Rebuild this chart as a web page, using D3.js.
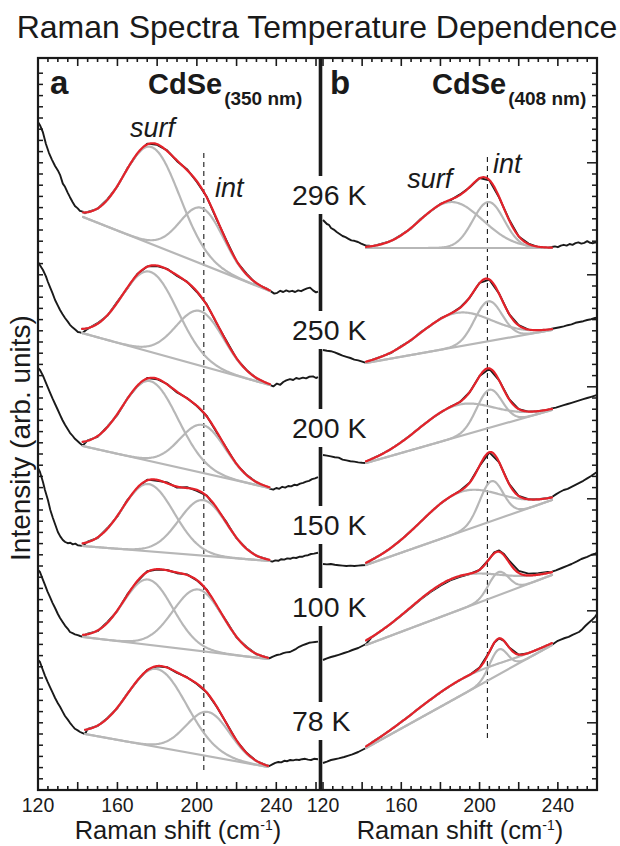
<!DOCTYPE html>
<html>
<head>
<meta charset="utf-8">
<script src="https://cdn.jsdelivr.net/npm/d3@7"></script>
<style>
  body { margin: 0; background: #fff; }
  svg { display: block; }
  text { font-family: "Liberation Sans", Arial, Helvetica, sans-serif; fill: #1a1a1a; }
</style>
</head>
<body>
<svg id="chart" width="620" height="846"></svg>
<script>
// ---------- data ----------
const temps = ["296 K", "250 K", "200 K", "150 K", "100 K", "78 K"];
const shiftTicks = [120, 160, 200, 240];

// Panel a: CdSe (350 nm). Measured spectra as [Raman shift, intensity] pairs.
const a296 = [[120,167],[121,166.2],[122.5,164.4],[124,161.5],[125.5,159.3],[127,157.6],[128.6,156],[130,154.9],[131.1,153.8],[132.5,151.6],[133.6,150.8],[135,149.3],[136.1,148.2],[137.4,147],[138.6,146],[140,145.4],[141.1,144.8],[142.5,144.6],[143.7,144.2],
  [145,144.5],[150,145.3],[155,147.7],[160,150.9],[165,155.4],[170,159.0],[175,161.6],[180,161.3],[185,159.9],[190,157.2],[195,155.2],[200,152.0],[205,148.3],[210,142.6],[215,137.3],[220,132.1],[225,129.1],[230,126.5],[235,125.4],
  [237.5,124.6],[239,124.1],[240.5,124.3],[242,124.8],[243.5,124.5],[245,124.9],[246.5,124.6],[248,124.8],[249.5,124.5],[251,124.9],[252.5,124.7],[254,125.1],[255.5,125.4],[257,125.6],[258.5,124.9],[260,124.4],[261,124.6]];
const a250 = [[120,132],[121,131.2],[122.5,130],[124,128.4],[125,127],[126,125.8],[127.3,124.2],[128.6,122.5],[130,121.1],[131.1,120],[132.3,119],[133.6,118],[135,117.1],[136.1,116.3],[137.5,115.6],[139,115],[140.1,114.5],[141.2,114.4],[142.2,114.2],
  [145,115.3],[150,116.7],[155,118.6],[160,122.1],[165,125.4],[170,129.0],[175,130.9],[180,131.0],[185,130.3],[190,128.5],[195,127.1],[200,124.5],[205,121.4],[210,116.6],[215,112.2],[220,107.8],[225,105.0],[230,102.9],[235,101.7],
  [237,101.2],[238.5,100.9],[240.3,101.6],[242,101.3],[243.5,102],[245,102.4],[246.9,102.7],[248.5,102.5],[250,103],[251.5,102.8],[253.4,103.1],[255,102.9],[256.5,103.3],[258.5,103.4],[260,103],[261,103.2]];
const a200 = [[120,105.5],[121,105],[122.5,103.6],[124,101.8],[125,100.6],[126,99.4],[127.3,97.9],[128.6,96.5],[130,95],[131.1,93.8],[132.3,92.5],[133.6,91.3],[135,90.2],[136.1,89.3],[137.5,88.5],[138.6,87.8],[140,87.2],[141.1,86.7],[142.5,86.1],
  [145,87.4],[150,88.3],[155,90.9],[160,93.8],[165,97.9],[170,100.9],[175,103.0],[180,102.7],[185,101.5],[190,99.4],[195,98.0],[200,96.0],[205,93.5],[210,89.4],[215,85.4],[220,81.4],[225,78.8],[230,76.9],[235,75.8],
  [237,75.3],[238.5,75.1],[240,75.5],[241.5,75.3],[243,75.8],[244.5,75.6],[246,76],[247.5,75.9],[249,76.3],[250.5,76.2],[252,76.6],[253.5,76.8],[255,77.1],[256.5,77.3],[258,77.7],[259.5,77.9],[261,78.2]];
const a150 = [[120,80.5],[121,79.5],[122.5,77],[123.5,75],[125,72.5],[126.2,70],[127.5,68],[128.8,66.2],[130,64.5],[131.2,63.4],[132.5,62.5],[133.7,62],[135,61.7],[136.3,61.8],[137.5,61.4],[138.8,61.6],[140,61.2],[141.3,61.1],[142.5,61],
  [145,62.1],[150,63.0],[155,65.5],[160,68.4],[165,72.5],[170,75.4],[175,77.6],[180,77.3],[185,76.9],[190,75.6],[195,75.7],[200,74.8],[205,73.6],[210,70.3],[215,66.9],[220,62.9],[225,60.4],[230,58.5],[235,57.8],
  [236.5,57.3],[238,57.1],[239.5,57.4],[241,57.3],[242.5,57.7],[244,57.6],[245.5,57.9],[247,57.8],[248.5,58.1],[250,58],[251.5,58.3],[253,58.3],[254.5,58.6],[256,58.7],[257.5,59],[259,59.1],[261,59.3]];
const a100 = [[120,55],[121,54.5],[122.3,52.8],[123.5,51.3],[124.8,49.6],[126,48.3],[127.3,46.8],[128.6,45.5],[130,44],[131.1,43],[132.4,42],[133.6,41.1],[135,40.3],[136.1,39.5],[137.4,39.2],[138.6,38.9],[140,38.7],[141.2,38.5],[142.7,38.3],
  [145,39.1],[150,39.7],[155,42.0],[160,44.8],[165,48.9],[170,52.1],[175,54.7],[180,55.1],[185,55.0],[190,54.2],[195,53.9],[200,52.4],[205,50.1],[210,45.9],[215,42.1],[220,38.1],[225,35.8],[230,33.9],[235,33.2],
  [236.5,32.9],[238,33.3],[239.5,33.6],[240.3,33.75],[242,33.9],[243.5,34.2],[245,34.4],[246.9,34.5],[248.5,34.9],[250,35.3],[251.5,35.8],[253.4,36.2],[255,36.5],[256.5,36.8],[258,36.9],[259.5,37],[261,37.1]];
const a78 = [[120,32.5],[121,32],[122.3,30.2],[123.5,28.6],[124.8,27.1],[126,25.8],[127.3,24.4],[128.6,23],[130,21.7],[131.1,20.8],[132.4,19.6],[133.6,18.5],[135,17.6],[136.1,16.8],[137.4,16],[138.6,15.3],[140,14.9],[141.2,14.5],[142.5,14.2],[143.7,14],
  [145,15.3],[150,16.0],[155,18.0],[160,20.5],[165,24.1],[170,27.3],[175,30.0],[180,30.9],[185,30.7],[190,29.3],[195,28.2],[200,26.5],[205,24.4],[210,20.8],[215,16.6],[220,12.3],[225,9.3],[230,7.2],[235,6.2],
  [236.5,6],[238,6.4],[239.5,6.8],[241,7],[242.5,6.9],[244,7.3],[245.5,7.2],[247,7.5],[248.5,7.4],[250,7.6],[251.5,7.5],[253,7.7],[254.5,7.8],[256,7.6],[257.5,7.5],[259,7.8],[261,7.7]];

// Panel b: CdSe (408 nm)
const b296 = [[120,142.5],[121,142],[122,141.5],[123,141.3],[124.1,140.5],[125.5,140.1],[127,139.5],[128.5,139],[130,138.5],[131.5,138.2],[133,137.8],[134.5,137.4],[136,137.3],[137.9,137],[139.5,136.6],[141,136.3],[142,136.1],[143.5,136.1],
  [145,135.9],[150,136.6],[155,137.3],[160,138.8],[165,140.4],[170,142.8],[175,144.7],[180,146.5],[185,147.4],[190,148.9],[195,150.7],[200,153.0],[205,152.4],[210,148.1],[215,142.7],[220,138.4],[225,136.6],[230,135.7],[235,135.6],
  [236.9,135.75],[238.5,135.9],[240,135.7],[241.5,136.1],[243,136.3],[244.5,136.1],[246,136.5],[247.5,136.3],[249,136.7],[250.5,136.9],[252,136.6],[253.5,136.8],[255,137.2],[256.5,136.8],[258,136.7],[259.5,136.9],[260,136.8]];
const b250 = [[120,110],[122,109.8],[124,109.7],[126,109.4],[128,109],[130,108.6],[132,108.3],[134,108],[136,107.6],[138,107.4],[140,107.1],[142,106.8],
  [145,107.5],[150,108.4],[155,109.3],[160,111.0],[165,112.4],[170,114.5],[175,116.1],[180,117.9],[185,119.0],[190,120.6],[195,123.1],[200,126.8],[205,127.6],[210,124.1],[215,119.0],[220,116.2],[225,115.1],[230,115.0],[235,115.1],
  [237,115.3],[239,115.5],[241,115.7],[243,115.9],[245,116.2],[247,116.4],[249,116.8],[251,117],[253,117.2],[255,117.5],[257,117.7],[259,118],[260,118.1]];
const b200 = [[120,83.75],[122,83.6],[124,83.4],[126,83.2],[128,83.1],[130,82.6],[132,82.4],[134,82.2],[136,82.1],[138,81.9],[140,81.8],[142,81.75],
  [145,82.8],[150,84.0],[155,85.3],[160,87.0],[165,88.8],[170,90.8],[175,92.7],[180,94.3],[185,95.8],[190,97.0],[195,99.5],[200,103.5],[205,105.3],[210,102.4],[215,97.8],[220,95.2],[225,94.6],[230,94.7],[235,95.1],
  [237,95.4],[239,95.6],[241,95.9],[243,96.2],[245,96.5],[247,96.8],[249,97.1],[251,97.4],[253,97.7],[255,98],[257,98.3],[259,98.6],[260,98.75]];
const b150 = [[120,56.5],[122,56.4],[124,56.5],[126,56.3],[128,56.2],[130,56.1],[132,56],[134,56.1],[136,56],[138,56.1],[140,56.2],[142,56.25],
  [145,57.6],[150,59.0],[155,60.6],[160,62.6],[165,64.8],[170,67.1],[175,69.4],[180,71.6],[185,73.3],[190,74.8],[195,76.9],[200,81.0],[205,84.4],[210,81.9],[215,76.6],[220,73.5],[225,72.7],[230,72.7],[235,73.0],
  [237,73.25],[239,73.9],[241,74.5],[243,75],[245,75.3],[247,75.8],[249,76.3],[251,76.8],[253,77.3],[255,77.9],[257,78.5],[259,79.2],[260,79.5]];
const b100 = [[120,32.5],[122,32.9],[124.1,33.25],[126,33.5],[128,33.8],[130.8,34.25],[133,34.6],[135,35],[138,35.5],[140,36],[142,36.5],
  [145,38.2],[150,39.9],[155,41.7],[160,43.6],[165,45.6],[170,47.7],[175,49.5],[180,51.1],[185,52.4],[190,53.3],[195,54.0],[200,55.0],[205,57.8],[207.5,59.4],[210,59.9],[212.5,59.0],[215,57.4],[220,54.8],[225,54.1],[230,54.2],[235,54.5],
  [237,54.6],[239,54.9],[242,55.5],[245,56.1],[247,56.5],[250,57.2],[252,57.75],[255,58.3],[257,58.75],[259,59.1],[260,59.3]];
const b78 = [[120,6.75],[122,7.1],[124.1,7.5],[126,7.7],[128,7.9],[130.8,8.25],[133,8.6],[135,8.9],[138,9.5],[140,10],[142,10.5],
  [145,11.9],[150,13.5],[155,15.2],[160,17.0],[165,18.9],[170,20.8],[175,22.6],[180,24.4],[185,26.0],[190,27.5],[195,28.8],[200,30.6],[205,34.5],[207.5,36.8],[210,37.9],[212.5,37.3],[215,35.7],[220,33.8],[225,34.2],[230,35.2],[235,36.3],
  [236.9,36.25],[238.5,36.8],[240,37.3],[241.5,37.6],[243.6,38],[245.5,38.3],[247.5,38.8],[250.8,39.5],[252.5,40.2],[254,41],[255.5,41.7],[257.4,42.5],[259,43.3],[260,44]];

// Fit results: linear background [shift0, I0, shift1, I1]; Gaussian bands [centre, height, sigma]
const baseA = [[142.7,143.25,236.8,124.75],[142.2,114.25,236.8,101.25],[142.5,86,236.5,75.5],[142.5,61,236.5,57.25],[142.7,38.25,235.8,32.75],[143.7,14,235.8,5.75]];
const surfA = [[177.4,24.25,14],[176.4,20,14],[176.5,20,14],[175.5,16.8,13],[175.4,16.3,12.5],[179.9,19.5,15]];
const intA  = [[202.6,14,11],[201.6,13.65,12],[203,12,11.5],[203,13.9,12],[200.6,15.3,12.5],[205.6,11.05,11]];
const baseB = [[142,135.5,237,135.5],[142,106.75,237,115],[142,81.75,237,95],[142,56.25,237,72.5],[142,36.25,237,53.75],[142,10.5,237,36.25]];
const surfB = [[185.6,11.5,16],[188,8.5,18],[188,8,19],[190,10,20],[187,8.5,22.5],[190.3,4,22.6]];
const intB  = [[204.6,11.5,8],[204.5,10,7],[205,9.5,6.5],[206,10,6],[209.7,5.75,5.1],[209.7,6.25,4.6]];

// Interior-mode reference lines: position and intensity extent per panel
const markShift = [203.5, 204];
const markSpan = [[5, 159.5], [13, 159.25]];

// ---------- drawing ----------
const svg = d3.select("#chart");
const frame = { top: 58, bottom: 790, left: 38, right: 597, midL: 318, midR: 323 };
const y = d3.scaleLinear().domain([0, 183]).range([frame.bottom, frame.top]);
const xA = d3.scaleLinear().domain([120, 261]).range([frame.left, frame.midL]);
const xB = d3.scaleLinear().domain([120, 260]).range([frame.midR, frame.right]);

const RED = "#e4222a", GRAY = "#b7b7b7", INK = "#1a1a1a";

const gauss = (x, [c, h, s]) => h * Math.exp(-((x - c) ** 2) / (2 * s * s));
const background = (x, [x0, v0, x1, v1]) => v0 + (v1 - v0) * (x - x0) / (x1 - x0);

const panels = [
  { x: xA, raw: [a296, a250, a200, a150, a100, a78], base: baseA, surf: surfA, band: intA, mark: markShift[0], span: markSpan[0] },
  { x: xB, raw: [b296, b250, b200, b150, b100, b78], base: baseB, surf: surfB, band: intB, mark: markShift[1], span: markSpan[1] }
];

const plot = svg.append("g");
panels.forEach(p => {
  const line = d3.line().x(d => p.x(d[0])).y(d => y(d[1]));
  plot.append("line")
    .attr("x1", p.x(p.mark)).attr("x2", p.x(p.mark))
    .attr("y1", y(p.span[0])).attr("y2", y(p.span[1]))
    .attr("stroke", INK).attr("stroke-width", 1.1).attr("stroke-dasharray", "5,4");

  p.raw.forEach((r, i) => {
    const b = p.base[i], s = p.surf[i], n = p.band[i];
    const xs = d3.range(b[0], b[2], 0.5).concat([b[2]]);
    plot.append("path").datum(r).attr("d", line)
      .attr("fill", "none").attr("stroke", INK).attr("stroke-width", 1.9).attr("stroke-linejoin", "round");
    const comps = [
      [[b[0], b[1]], [b[2], b[3]]],
      xs.map(v => [v, background(v, b) + gauss(v, s)]),
      xs.map(v => [v, background(v, b) + gauss(v, n)])
    ];
    comps.forEach(c => plot.append("path").datum(c).attr("d", line)
      .attr("fill", "none").attr("stroke", GRAY).attr("stroke-width", 2.2).attr("stroke-linecap", "round"));
    const fit = xs.map(v => [v, background(v, b) + gauss(v, s) + gauss(v, n)]);
    plot.append("path").datum(fit).attr("d", line)
      .attr("fill", "none").attr("stroke", RED).attr("stroke-width", 2.2).attr("stroke-linecap", "round");
  });
});

// frame and ticks
const axis = svg.append("g").attr("stroke", INK).attr("fill", "none");
axis.append("rect").attr("x", frame.left).attr("y", frame.top)
  .attr("width", frame.right - frame.left).attr("height", frame.bottom - frame.top).attr("stroke-width", 2.2);
axis.append("line").attr("x1", (frame.midL + frame.midR) / 2).attr("x2", (frame.midL + frame.midR) / 2)
  .attr("y1", frame.top).attr("y2", frame.bottom).attr("stroke-width", 3.6);

[xA, xB].forEach(x => {
  d3.range(120, 260.1, 5).forEach(t => {
    const len = t % 20 === 0 ? 8 : 4;
    const px = x(t);
    axis.append("line").attr("x1", px).attr("x2", px).attr("y1", frame.bottom).attr("y2", frame.bottom - len).attr("stroke-width", 1.6);
    axis.append("line").attr("x1", px).attr("x2", px).attr("y1", frame.top).attr("y2", frame.top + len).attr("stroke-width", 1.6);
  });
});
// intensity ticks: fine ticks on both sides, longer ones every tenth tick on the right
d3.range(0, 65).forEach(k => {
  const py = y(k * 2.8);
  const longTick = k % 10 === 6;
  axis.append("line").attr("x1", frame.left).attr("x2", frame.left + 5).attr("y1", py).attr("y2", py).attr("stroke-width", 1.5);
  axis.append("line").attr("x1", frame.right).attr("x2", frame.right - (longTick ? 10 : 5)).attr("y1", py).attr("y2", py).attr("stroke-width", 1.5);
});

// tick labels and axis titles
[xA, xB].forEach(x => {
  shiftTicks.forEach(t => svg.append("text").attr("x", x(t)).attr("y", 812)
    .attr("text-anchor", "middle").attr("font-size", 19.5).text(t));
  const cx = (x.range()[0] + x.range()[1]) / 2;
  const tt = svg.append("text").attr("x", cx).attr("y", 839).attr("text-anchor", "middle").attr("font-size", 25.5);
  tt.append("tspan").text("Raman shift (cm");
  tt.append("tspan").attr("font-size", 14).attr("dy", -9).text("-1");
  tt.append("tspan").attr("dy", 9).text(")");
});
svg.append("text").attr("transform", "translate(30,438) rotate(-90)")
  .attr("text-anchor", "middle").attr("font-size", 28).text("Intensity (arb. units)");

svg.append("text").attr("x", 317).attr("y", 38).attr("text-anchor", "middle")
  .attr("font-size", 32).text("Raman Spectra Temperature Dependence");

// panel letters and sample names
[["a", 50, "(350 nm)", 148], ["b", 330, "(408 nm)", 432]].forEach(([l, lx, sub, sx]) => {
  svg.append("text").attr("x", lx).attr("y", 94).attr("font-size", 33).attr("font-weight", "bold").text(l);
  const t = svg.append("text").attr("x", sx).attr("y", 94).attr("font-size", 29).attr("font-weight", "bold");
  t.append("tspan").text("CdSe");
  t.append("tspan").attr("font-size", 19).attr("dx", 2).attr("dy", 11).text(sub);
});

// band annotations
[[xA, 166.3, 163.25, "surf"], [xA, 209.1, 148.25, "int"], [xB, 163, 150.5, "surf"], [xB, 206.9, 154.25, "int"]]
  .forEach(([x, s, v, txt]) => svg.append("text").attr("x", x(s)).attr("y", y(v))
    .attr("font-size", 27).attr("font-style", "italic").text(txt));

// temperature labels across the divider
const labelLevels = [146.25, 112.5, 88, 63.75, 43.25, 14.75];
temps.forEach((t, i) => {
  const g = svg.append("g");
  const txt = g.append("text").attr("x", 292).attr("y", y(labelLevels[i])).attr("font-size", 28.5).text(t);
  const bb = txt.node().getBBox();
  g.insert("rect", "text").attr("x", bb.x - 2).attr("y", bb.y - 3).attr("width", bb.width + 4).attr("height", bb.height + 6)
    .attr("fill", "#fff");
});
</script>
</body>
</html>
